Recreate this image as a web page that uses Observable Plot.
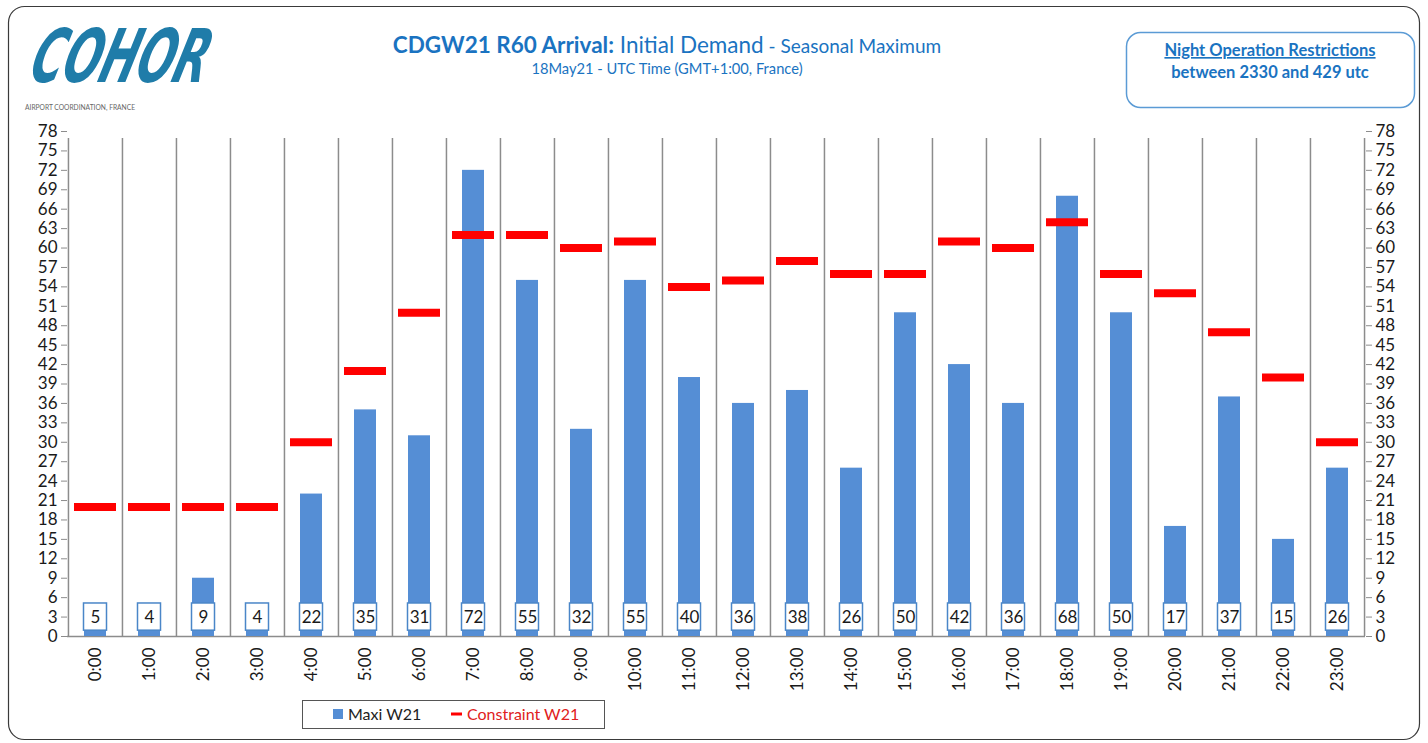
<!DOCTYPE html>
<html>
<head>
<meta charset="utf-8">
<script src="https://cdn.jsdelivr.net/npm/d3@7"></script>
<script src="https://cdn.jsdelivr.net/npm/@observablehq/plot@0.6"></script>
<style>
  html, body { margin: 0; padding: 0; background: #fff; }
  #wrap { position: relative; width: 1428px; height: 743px; overflow: hidden; font-family: Lato, "Open Sans", sans-serif; }
  #chart, #overlay { position: absolute; left: 0; top: 0; }
  #overlay { pointer-events: none; }
</style>
</head>
<body>
<div id="wrap">
  <div id="chart"></div>
  <svg id="overlay" width="1428" height="743" xmlns="http://www.w3.org/2000/svg">
    <rect x="8.5" y="6.5" width="1411" height="733" rx="16" ry="16" fill="none" stroke="#3a3a3a" stroke-width="1.2"/>
    <text transform="translate(27,82) skewX(-16)" x="0" y="0" font-family="DejaVu Sans" font-weight="bold" font-style="italic" font-size="74" fill="#1f7ca9" textLength="176" lengthAdjust="spacingAndGlyphs">COHOR</text>
    <text x="25" y="110" font-family="Lato" font-size="8" fill="#666" textLength="110" lengthAdjust="spacingAndGlyphs">AIRPORT COORDINATION, FRANCE</text>
    <text x="667" y="53" text-anchor="middle" fill="#1a73c1" font-family="Lato">
      <tspan font-weight="bold" font-size="22.5">CDGW21 R60 Arrival:</tspan><tspan font-size="22.5"> Initial Demand</tspan><tspan font-size="19"> - Seasonal Maximum</tspan>
    </text>
    <text x="667" y="74" text-anchor="middle" fill="#1a73c1" font-family="Lato" font-size="14.7">18May21 - UTC Time (GMT+1:00, France)</text>
    <rect x="1126.5" y="32.5" width="288" height="75" rx="14" ry="14" fill="#fff" stroke="#5b9bd5" stroke-width="1.5"/>
    <text x="1270" y="56" text-anchor="middle" fill="#1a73c1" font-family="Lato" font-weight="bold" font-size="16.5" text-decoration="underline">Night Operation Restrictions</text>
    <text x="1270" y="78" text-anchor="middle" fill="#1a73c1" font-family="Lato" font-weight="bold" font-size="16.5">between 2330 and 429 utc</text>
    <rect x="302.5" y="700.5" width="302" height="28" fill="#fff" stroke="#555" stroke-width="1"/>
    <rect x="333" y="709" width="10" height="10" fill="#558ed5"/>
    <text x="348" y="720" font-family="Lato" font-size="16" fill="#222">Maxi W21</text>
    <rect x="451" y="712.5" width="11" height="3" fill="#ff0000"/>
    <text x="467" y="720" font-family="Lato" font-size="16" fill="#e02020">Constraint W21</text>
  </svg>
</div>
<script>
const hours = ["0:00","1:00","2:00","3:00","4:00","5:00","6:00","7:00","8:00","9:00","10:00","11:00",
               "12:00","13:00","14:00","15:00","16:00","17:00","18:00","19:00","20:00","21:00","22:00","23:00"];
const maxiW21 = [5,4,9,4,22,35,31,72,55,32,55,40,36,38,26,50,42,36,68,50,17,37,15,26];
const constraintW21 = [20,20,20,20,30,41,50,62,62,60,61,54,55,58,56,56,61,60,64,56,53,47,40,30];
const yTicks = [0,3,6,9,12,15,18,21,24,27,30,33,36,39,42,45,48,51,54,57,60,63,66,69,72,75,78];

const data = hours.map((h, i) => ({hour: h, maxi: maxiW21[i], constraint: constraintW21[i]}));

const W = 1428, H = 743, ML = 67, MR = 63, MT = 131, MB = 107;
const half = (W - ML - MR) / hours.length / 2;
const gridColor = "#8c8c8c";

const chart = Plot.plot({
  width: W, height: H,
  marginLeft: ML, marginRight: MR, marginTop: MT, marginBottom: MB,
  style: {fontFamily: "Lato, 'Open Sans', sans-serif", fontSize: "17px", color: "#1a1a1a", background: "transparent"},
  x: {type: "band", domain: hours, padding: 0, label: null},
  y: {domain: [0, 78], label: null},
  marks: [
    Plot.ruleX(hours, {x: d => d, dx: -half, y1: 0, y2: 78, insetBottom: -7, stroke: gridColor, strokeWidth: 1.5}),
    Plot.ruleX(hours.slice(-1), {x: d => d, dx: half, y1: 0, y2: 78, insetBottom: -7, stroke: gridColor, strokeWidth: 1.5}),
    Plot.ruleY([0], {stroke: gridColor, strokeWidth: 1.5}),
    Plot.barY(data, {x: "hour", y: "maxi", fill: "#558ed5", insetLeft: 16, insetRight: 16}),
    Plot.tickY(data, {x: "hour", y: "constraint", stroke: "#ff0000", strokeWidth: 8, insetLeft: 6, insetRight: 6}),
    Plot.barY(data, {x: "hour", y1: 0.9, y2: 5.1, fill: "#fff", stroke: "#4a86c8", strokeWidth: 1.5, insetLeft: 15.5, insetRight: 15.5}),
    Plot.text(data, {x: "hour", y: 3, text: d => String(d.maxi), fontSize: 17, fill: "#1a1a1a"}),
    Plot.axisY({anchor: "left", ticks: yTicks, tickSize: 6, tickPadding: 4, stroke: gridColor, label: null}),
    Plot.axisY({anchor: "right", ticks: yTicks, tickSize: 6, tickPadding: 4, stroke: gridColor, label: null}),
    Plot.axisX({tickSize: 0, tickRotate: -90, tickPadding: 11, label: null})
  ]
});
document.getElementById("chart").appendChild(chart);
</script>
</body>
</html>
